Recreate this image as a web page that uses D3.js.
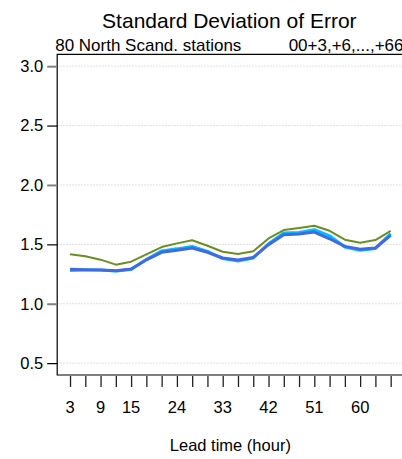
<!DOCTYPE html>
<html><head><meta charset="utf-8">
<script src="https://cdn.jsdelivr.net/npm/d3@7"></script>
<style>body{margin:0;background:#fff}svg{display:block;font-family:"Liberation Sans",Arial,sans-serif}</style>
</head><body><svg id="c" width="402" height="459"></svg>
<script>
const hours = [3,6,9,12,15,18,21,24,27,30,33,36,39,42,45,48,51,54,57,60,63,66];
const xLabels = [3,9,15,24,33,42,51,60];
const yTicks = [0.5,1.0,1.5,2.0,2.5,3.0];
const seriesGreen = [1.416,1.399,1.371,1.329,1.354,1.416,1.477,1.508,1.534,1.488,1.438,1.418,1.441,1.55,1.62,1.637,1.656,1.614,1.539,1.513,1.536,1.614];
const seriesRoyal = [1.29,1.287,1.284,1.278,1.292,1.37,1.433,1.45,1.469,1.433,1.385,1.368,1.39,1.497,1.58,1.587,1.603,1.547,1.483,1.458,1.469,1.576];
const seriesCyan  = [1.28,1.285,1.283,1.275,1.288,1.372,1.445,1.462,1.482,1.44,1.38,1.36,1.385,1.505,1.595,1.60,1.623,1.572,1.478,1.45,1.465,1.59];

const svg = d3.select("#c");
const L = 57.2, R = 403.5, T = 54.3, B = 375;
const x = d3.scaleLinear().domain([0.48, 68.52]).range([L, R]);
const y = d3.scaleLinear().domain([0.4, 3.1]).range([B, T]);

// grid
svg.append("g").selectAll("line").data(yTicks).join("line")
  .attr("x1", L).attr("x2", R).attr("y1", d => y(d)).attr("y2", d => y(d))
  .attr("stroke", "#d6d6d6").attr("stroke-width", 1).attr("stroke-dasharray", "1.5,1.5");

// lines
const line = d3.line().x((d, i) => x(hours[i])).y(d => y(d));
svg.append("path").datum(seriesCyan).attr("d", line).attr("fill", "none")
  .attr("stroke", "#00BFFF").attr("stroke-width", 3).attr("stroke-linejoin", "round");
svg.append("path").datum(seriesRoyal).attr("d", line).attr("fill", "none")
  .attr("stroke", "#4169E1").attr("stroke-width", 3).attr("stroke-linejoin", "round");
svg.append("path").datum(seriesGreen).attr("d", line).attr("fill", "none")
  .attr("stroke", "#6B8E23").attr("stroke-width", 2).attr("stroke-linejoin", "round");

// box
svg.append("path").attr("d", `M${R},${T}H${L}V${B}H${R}`).attr("fill", "none")
  .attr("stroke", "#000").attr("stroke-width", 1.2);

// y axis
const yAx = svg.append("g").attr("transform", `translate(${L},0)`)
  .call(d3.axisLeft(y).tickValues(yTicks).tickSize(10).tickPadding(4).tickFormat(d3.format(".1f")));
yAx.select(".domain").remove();
yAx.selectAll(".tick line").attr("stroke", d => Number.isInteger(d) ? "#808080" : "#000")
  .attr("stroke-width", d => Number.isInteger(d) ? 2 : 1.2);
yAx.selectAll("text").attr("font-size", 16.5).attr("fill", "#000").attr("font-family", "Liberation Sans, Arial, sans-serif");

// x axis ticks below box
const xAx = svg.append("g").attr("transform", `translate(0,${B + 1})`)
  .call(d3.axisBottom(x).tickValues(hours).tickSize(11).tickFormat(""));
xAx.select(".domain").remove();
xAx.selectAll(".tick line").attr("stroke", "#222").attr("stroke-width", 1.3);
svg.append("g").selectAll("text").data(xLabels).join("text")
  .attr("x", d => x(d)).attr("y", 413).attr("text-anchor", "middle")
  .attr("font-size", 16.5).text(d => d);

// titles
svg.append("text").attr("x", (L + R) / 2 - 1).attr("y", 27.5).attr("text-anchor", "middle")
  .attr("font-size", 21).text("Standard Deviation of Error");
svg.append("text").attr("x", L - 2).attr("y", 51).attr("font-size", 17).text("80 North Scand. stations");
svg.append("text").attr("x", R).attr("y", 51).attr("text-anchor", "end").attr("font-size", 17).text("00+3,+6,...,+66");
svg.append("text").attr("x", (L + R) / 2).attr("y", 451).attr("text-anchor", "middle")
  .attr("font-size", 16.5).text("Lead time (hour)");
</script></body></html>
